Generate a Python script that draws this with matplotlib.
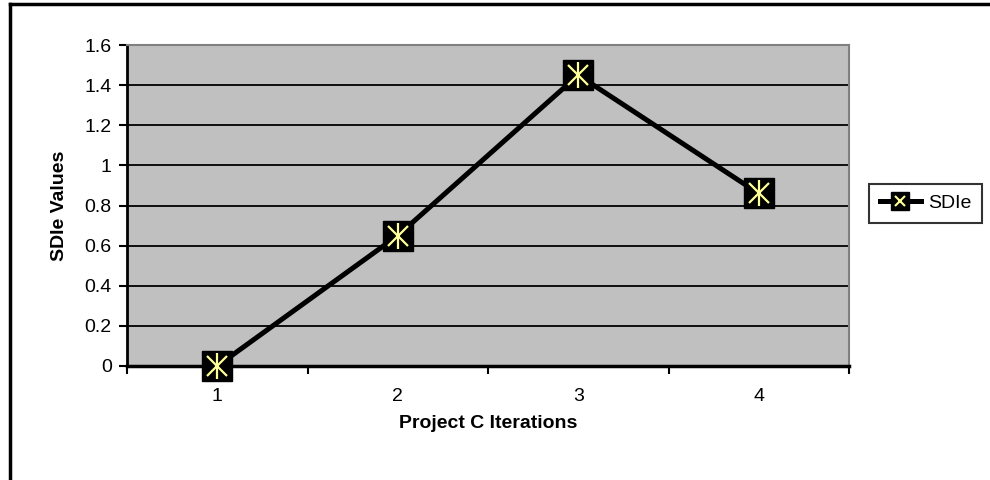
import matplotlib.pyplot as plt
from matplotlib.lines import Line2D

plt.rcParams['font.family'] = ['Liberation Sans', 'DejaVu Sans']

iterations = ['1', '2', '3', '4']
sdie = [0.0, 0.65, 1.45, 0.86]
y_ticks = [0, 0.2, 0.4, 0.6, 0.8, 1.0, 1.2, 1.4, 1.6]
y_tick_labels = ['0', '0.2', '0.4', '0.6', '0.8', '1', '1.2', '1.4', '1.6']

yellow = '#ffff99'
fs = 14

fig = plt.figure(figsize=(9.9, 4.8), dpi=100)
ax = fig.add_axes([127 / 990, 1 - 366 / 480, (849 - 127) / 990, (366 - 45) / 480])
ax.set_facecolor('#c0c0c0')

x = list(range(1, len(iterations) + 1))

# series line, then black square markers with a yellow asterisk on top
ax.plot(x, sdie, color='black', lw=3.6, zorder=3, clip_on=False)
ax.plot(x, sdie, ls='none', marker='s', ms=22, mfc='black', mec='black', zorder=4, clip_on=False)
ax.plot(x, sdie, ls='none', marker='x', ms=15, mec=yellow, mew=1.6, zorder=5, clip_on=False)
ax.plot(x, sdie, ls='none', marker='|', ms=19, mec=yellow, mew=1.6, zorder=5, clip_on=False)

ax.set_xlim(0.5, len(iterations) + 0.5)
ax.set_ylim(0, 1.6)
ax.set_yticks(y_ticks)
ax.set_yticklabels(y_tick_labels)
ax.set_xticks(x)
ax.set_xticklabels(iterations)
ax.set_xticks([i + 0.5 for i in range(len(iterations) + 1)], minor=True)

for v in y_ticks[1:-1]:
    ax.axhline(v, color='black', lw=1.3, zorder=1)

ax.tick_params(axis='y', direction='out', length=6, width=1.5, labelsize=fs, pad=5)
ax.tick_params(axis='x', which='major', length=0, labelsize=fs, pad=16)
ax.tick_params(axis='x', which='minor', direction='out', length=6, width=1.5)

ax.spines['left'].set_linewidth(2)
ax.spines['bottom'].set_linewidth(2.5)
ax.spines['top'].set_color('#808080')
ax.spines['right'].set_color('#808080')
ax.spines['top'].set_linewidth(1.5)
ax.spines['right'].set_linewidth(1.5)

ax.set_xlabel('Project C Iterations', fontsize=fs, fontweight='bold', labelpad=7)
ax.set_ylabel('SDIe Values', fontsize=fs, fontweight='bold', labelpad=12)

# legend handle: line with a small black square and yellow cross
h_line = Line2D([], [], color='black', lw=3.6)
h_box = Line2D([], [], ls='none', marker='s', ms=13, mfc='black', mec='black')
h_x = Line2D([], [], ls='none', marker='x', ms=7, mec=yellow, mew=1.5)
leg = fig.legend([(h_line, h_box, h_x)], ['SDIe'], loc='center left',
                 bbox_to_anchor=(869 / 990, 1 - 203 / 480), frameon=True, fancybox=False,
                 edgecolor='black', fontsize=fs, handlelength=2.1, borderpad=0.55,
                 handletextpad=0.4, borderaxespad=0)
leg.get_frame().set_linewidth(1.5)

# outer chart border
fig.add_artist(Line2D([10 / 990, 10 / 990], [-0.1, 1 - 4 / 480], color='black', lw=2.5,
                      transform=fig.transFigure))
fig.add_artist(Line2D([10 / 990, 1.1], [1 - 4 / 480, 1 - 4 / 480], color='black', lw=2.5,
                      transform=fig.transFigure))

fig.savefig('out.png', dpi=100)
